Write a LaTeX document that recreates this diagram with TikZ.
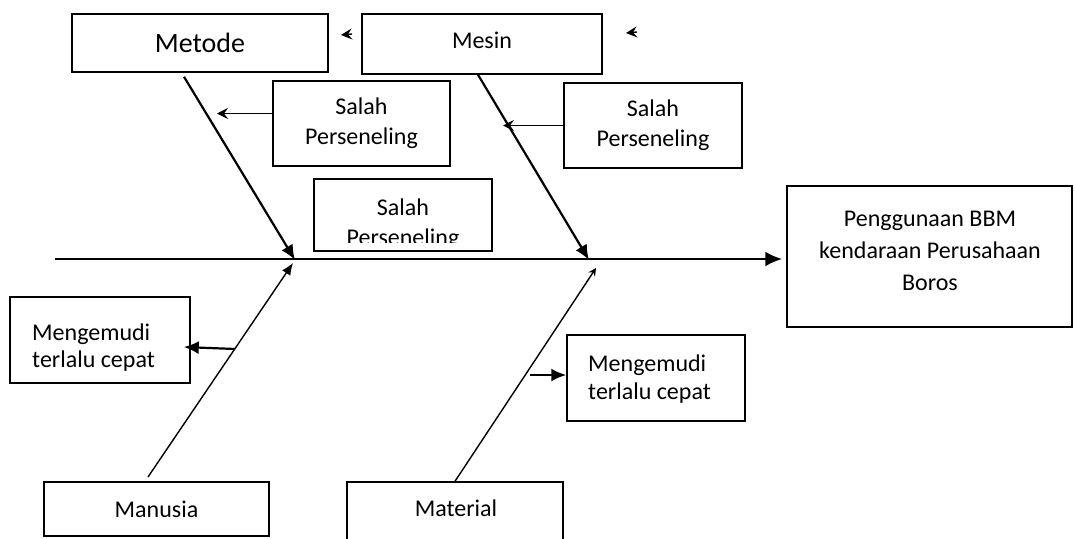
\documentclass[tikz,border=0pt]{standalone}
\usepackage{fontspec}
\setmainfont{Carlito}
\usepackage{tikz}
\usetikzlibrary{arrows.meta, positioning}

\tikzset{
    box/.style={draw, line width=1.5pt, rectangle, inner sep=0pt, align=center,
        font=\fontsize{24}{30}\selectfont},
    txt/.style={inner sep=0pt, font=\fontsize{24}{30}\selectfont},
    bone/.style={line width=2.6pt},
    rib/.style={line width=2.2pt},
    twig/.style={line width=1.4pt},
    head/.style={-{Latex[length=17pt, width=15pt]}},
    smallhead/.style={-{Latex[length=15pt, width=13pt]}},
    barb/.style={-{Stealth[length=11pt, width=11pt, inset=4pt]}},
}

\begin{document}
\begin{tikzpicture}[x=1pt, y=-1pt]
        \useasboundingbox (0,0) rectangle (1075,538);
        \clip (0,0) rectangle (1075,538);
        % boxes
        \node[box, minimum width=256pt, minimum height=58pt, font=\fontsize{28}{34}\selectfont] (metode) at (200,43) {Metode};
        \node[box, minimum width=240pt, minimum height=60pt] (mesin) at (482,44) {};
        \node[txt] (mesint) at (482,40) {Mesin};
        \node[box, minimum width=177pt, minimum height=85pt] (salah1) at (361.5,123.5) {Salah\\Perseneling};
        \node[box, minimum width=178pt, minimum height=85pt] (salah2) at (653,125.5) {Salah\\Perseneling};
        \node[box, minimum width=178pt, minimum height=72pt] (salah3) at (403,215) {};
        \begin{scope}
          \clip (salah3.north west) rectangle ([yshift=9pt]salah3.south east);
          \node[txt, align=center] (salah3t) at (403,224) {Salah\\Perseneling};
        \end{scope}
        \node[box, minimum width=285pt, minimum height=141pt] (akibat) at (929.5,256.5) {};
        \node[txt, align=center, font=\fontsize{24}{32}\selectfont] (akibatt) at (930,251) {Penggunaan BBM\\kendaraan Perusahaan\\Boros};
        \node[box, minimum width=180pt, minimum height=86pt] (kiri) at (100,340) {};
        \node[txt, align=left, anchor=west, font=\fontsize{24}{27}\selectfont] (kirit) at (32,348) {Mengemudi\\terlalu cepat};
        \node[box, minimum width=178pt, minimum height=86pt] (kanan) at (656,378) {};
        \node[txt, align=left, anchor=west, font=\fontsize{24}{28}\selectfont] (kanant) at (588,379) {Mengemudi\\terlalu cepat};
        \node[box, minimum width=225pt, minimum height=54pt] (manusia) at (156.5,509) {Manusia};
        \node[box, minimum width=216pt, minimum height=60pt] (material) at (455,512) {};
        \node[txt] (materialt) at (456,508) {Material};

        % spine and bones
        \coordinate (ekor) at (55,259);
        \coordinate (k1) at (295,260);
        \coordinate (k2) at (589,260);
        \coordinate (k3) at (293,263);
        \coordinate (k4) at (596,268);
        \coordinate (m1) at (148,477);
        \draw[bone, head, shorten >=4pt] (ekor) -- (akibat.west |- ekor);
        \draw[rib, smallhead] ([xshift=-16pt, yshift=-4pt]metode.south) -- (k1);
        \draw[rib, smallhead] ([xshift=-4pt]mesin.south) -- (k2);
        \draw[twig, -{Latex[length=12pt, width=10pt]}] (m1) -- (k3);
        \draw[twig, -{Stealth[length=8pt, width=8pt, inset=3pt]}] (material.north) -- (k4);

        % small causes
        \coordinate (t1) at (217,113.5);
        \coordinate (t2) at (503,125.5);
        \coordinate (t3) at (235,349);
        \coordinate (t4) at (530,375);
        \draw[twig, barb] ([yshift=10pt]salah1.west) -- (t1);
        \draw[twig, barb] (salah2.west) -- (t2);
        \draw[rib, -{Latex[length=15pt, width=13pt]}] (t3) -- ([xshift=-7pt, yshift=-7pt]kiri.east);
        \draw[rib, -{Latex[length=15pt, width=13pt]}] (t4) -- ([yshift=3pt]kanan.west);

        % stray tips
        \coordinate (s1) at (352,34);
        \coordinate (s2) at (637,32);
        \draw[twig, barb] (s1) -- ++(-11,1);
        \draw[twig, barb] (s2) -- ++(-11,1);
      \end{tikzpicture}
\end{document}
